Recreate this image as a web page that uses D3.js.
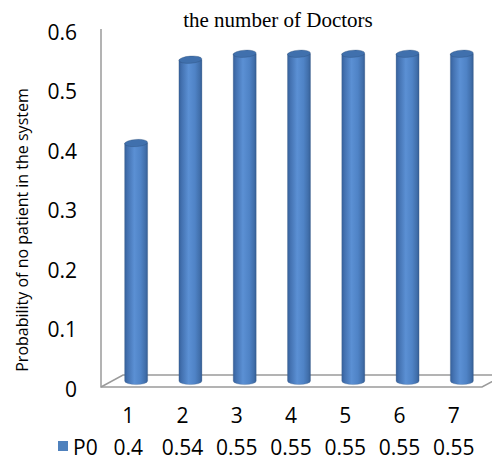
<!DOCTYPE html>
<html>
<head>
<meta charset="utf-8">
<script src="https://cdn.jsdelivr.net/npm/d3@7/dist/d3.min.js"></script>
<style>
  html, body { margin: 0; padding: 0; background: #fff; }
  svg { display: block; }
</style>
</head>
<body>
<svg id="chart" width="492" height="459"></svg>
<script>
// Chart data
const categories = ["1", "2", "3", "4", "5", "6", "7"];
const seriesName = "P0";
const p0Values = [0.4, 0.54, 0.55, 0.55, 0.55, 0.55, 0.55];
const tableLabels = ["0.4", "0.54", "0.55", "0.55", "0.55", "0.55", "0.55"];
const yTicks = [0, 0.1, 0.2, 0.3, 0.4, 0.5, 0.6];
const chartTitle = "the number of Doctors";
const yAxisTitle = "Probability of no patient in the system";

const W = 492, H = 459;
const svg = d3.select("#chart");

// Front plane scales
const x = d3.scaleBand().domain(categories).range([101, 481]).padding(0);
const y = d3.scaleLinear().domain([0, 0.6]).range([389, 32]);

// Depth offset of the columns (they stand halfway into the floor)
const depthX = 8, depthY = -8;
const barW = 23, capRy = 3.6;

const numFont = "'Open Sans', 'Noto Sans', sans-serif";
const axisColor = "#9a9a9a";

// Gradient for the cylinder body
const defs = svg.append("defs");
const grad = defs.append("linearGradient").attr("id", "cyl")
  .attr("x1", "0%").attr("x2", "100%").attr("y1", "0%").attr("y2", "0%");
[[0, "#36609a"], [0.12, "#4371b0"], [0.42, "#5b90d4"], [0.7, "#4f83c6"], [0.9, "#416fab"], [1, "#345d94"]]
  .forEach(([o, c]) => grad.append("stop").attr("offset", o).attr("stop-color", c));

// Floor (thin parallelogram) and vertical axis line
const floorFront = 387, floorBack = 375, floorDX = 22;
const floorLeft = 101, floorRight = 482;
const floorG = svg.append("g").attr("fill", "none").attr("stroke", axisColor).attr("stroke-width", 1.5);
floorG.append("path")
  .attr("d", `M${floorLeft},${floorFront} L${floorLeft + floorDX},${floorBack} L${floorRight + floorDX},${floorBack}`);

// Columns
const bars = svg.append("g");
categories.forEach((c, i) => {
  const cx = x(c) + x.bandwidth() / 2 + depthX;
  const yTop = y(p0Values[i]) + depthY;
  const yBot = y(0) + depthY;
  const l = cx - barW / 2, r = cx + barW / 2;
  bars.append("path")
    .attr("d", `M${l},${yTop} L${l},${yBot} A${barW / 2},${capRy} 0 0 0 ${r},${yBot} L${r},${yTop} Z`)
    .attr("fill", "url(#cyl)")
    .attr("stroke", "rgba(60,90,130,0.35)").attr("stroke-width", 0.8);
  bars.append("ellipse")
    .attr("cx", cx).attr("cy", yTop)
    .attr("rx", barW / 2).attr("ry", capRy)
    .attr("transform", `rotate(-4 ${cx} ${yTop})`)
    .attr("fill", "#4070ad")
    .attr("stroke", "rgba(40,70,110,0.5)").attr("stroke-width", 0.6);
});

// Front edge of floor and vertical axis, drawn on top
svg.append("path")
  .attr("d", `M${floorLeft},29 L${floorLeft},${floorFront} L${floorRight},${floorFront} L${floorRight + floorDX},${floorBack}`)
  .attr("fill", "none").attr("stroke", axisColor).attr("stroke-width", 1.5);

// Y tick labels
svg.append("g").selectAll("text").data(yTicks).join("text")
  .attr("x", 77).attr("y", d => y(d) + 7.5)
  .attr("text-anchor", "end")
  .attr("font-family", numFont).attr("font-size", 21).attr("fill", "#000")
  .text(d => d === 0 ? "0" : d3.format(".1f")(d));

// Category labels
svg.append("g").selectAll("text").data(categories).join("text")
  .attr("x", d => x(d) + x.bandwidth() / 2).attr("y", 423)
  .attr("text-anchor", "middle")
  .attr("font-family", numFont).attr("font-size", 21).attr("fill", "#000")
  .text(d => d);

// Data table row with legend key
svg.append("rect").attr("x", 58).attr("y", 441).attr("width", 10).attr("height", 10).attr("fill", "#4f81bd");
svg.append("text").attr("x", 73).attr("y", 454.5)
  .attr("font-family", numFont).attr("font-size", 21).attr("fill", "#000")
  .text(seriesName);
svg.append("g").selectAll("text").data(categories).join("text")
  .attr("x", d => x(d) + x.bandwidth() / 2).attr("y", 454.5)
  .attr("text-anchor", "middle")
  .attr("font-family", numFont).attr("font-size", 21).attr("fill", "#000")
  .text((d, i) => tableLabels[i]);

// Title
svg.append("text").attr("x", 278).attr("y", 27)
  .attr("text-anchor", "middle")
  .attr("font-family", "'Liberation Serif', 'Times New Roman', serif").attr("font-size", 21).attr("fill", "#000")
  .text(chartTitle);

// Y axis title
svg.append("text")
  .attr("transform", "translate(28,230) rotate(-90)")
  .attr("text-anchor", "middle")
  .attr("font-family", numFont).attr("font-size", 16).attr("fill", "#000")
  .text(yAxisTitle);
</script>
</body>
</html>
